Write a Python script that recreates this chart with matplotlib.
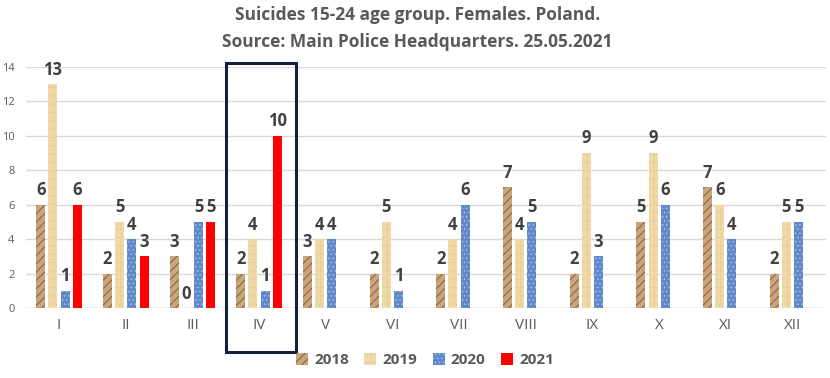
import matplotlib
matplotlib.use("Agg")
import matplotlib.pyplot as plt
import numpy as np
from matplotlib.patches import Rectangle

months = ["I", "II", "III", "IV", "V", "VI", "VII", "VIII", "IX", "X", "XI", "XII"]
y2018 = [6, 2, 3, 2, 3, 2, 2, 7, 2, 5, 7, 2]
y2019 = [13, 5, 0, 4, 4, 5, 4, 4, 9, 9, 6, 5]
y2020 = [1, 4, 5, 1, 4, 1, 6, 5, 3, 6, 4, 5]
y2021 = [6, 3, 5, 10, None, None, None, None, None, None, None, None]
years = ["2018", "2019", "2020", "2021"]
yticks = [0, 2, 4, 6, 8, 10, 12, 14]

plt.rcParams['font.family'] = ['Open Sans', 'DejaVu Sans']
plt.rcParams['hatch.linewidth'] = 0.6

fig = plt.figure(figsize=(8.3, 3.78), dpi=100)
ax = fig.add_axes([0.031, 0.185, 0.964, 0.638])

styles = [
    dict(color="#C9A57C", edgecolor="#7A5530", hatch="////"),
    dict(color="#EFD9A6", edgecolor="#E6CD95", hatch="++"),
    dict(color="#5F88C9", edgecolor="#A9C2E6", hatch="...."),
    dict(color="#FF0000", edgecolor="#FF0000", hatch=None),
]
series = [y2018, y2019, y2020, y2021]
x = np.arange(len(months))
step = 0.184
width = 0.135
offsets = (np.arange(4) - 1.5) * step

for i, (vals, st) in enumerate(zip(series, styles)):
    xs = [x[j] + offsets[i] for j in range(len(vals)) if vals[j] is not None]
    vs = [v for v in vals if v is not None]
    bars = ax.bar(xs, vs, width=width, color=st["color"], edgecolor=st["edgecolor"],
                  hatch=st["hatch"], linewidth=0, label=years[i], zorder=3)
    for b, v in zip(bars, vs):
        ax.annotate(str(v), (b.get_x() + b.get_width() / 2, v), xytext=(0, 4),
                    textcoords="offset points", ha="center", va="bottom",
                    fontsize=12, fontweight="bold", color="#404040")

ax.set_xlim(-0.5, len(months) - 0.5)
ax.set_ylim(0, 14)
ax.set_yticks(yticks)
ax.set_xticks(x)
ax.set_xticklabels(months, fontsize=11, color="#595959")
ax.tick_params(axis="y", labelsize=8, colors="#595959", length=0, pad=8)
ax.tick_params(axis="x", length=0, pad=7)
ax.grid(axis="y", color="#D9D9D9", linewidth=1, zorder=0)
for s in ax.spines.values():
    s.set_visible(False)
ax.axhline(0, color="#D9D9D9", linewidth=1, zorder=2)

rect = Rectangle((2.504, -2.56), 1.05, 16.8, fill=False, edgecolor="#13213F",
                 linewidth=2.2, clip_on=False, zorder=5)
ax.add_patch(rect)

fig.text(0.503, 0.96, "Suicides 15-24 age group. Females. Poland.", ha="center", va="center",
         fontsize=12.5, fontweight="bold", color="#595959")
fig.text(0.503, 0.888, "Source: Main Police Headquarters. 25.05.2021", ha="center", va="center",
         fontsize=12.5, fontweight="bold", color="#595959")

leg = fig.legend(loc="center", bbox_to_anchor=(0.512, 0.047), ncol=4, frameon=False,
                 fontsize=11, handlelength=0.8, handleheight=0.8, handletextpad=0.4,
                 columnspacing=1.0)
for t in leg.get_texts():
    t.set_fontweight("bold")
    t.set_color("#595959")

fig.savefig("out.png", dpi=100)
